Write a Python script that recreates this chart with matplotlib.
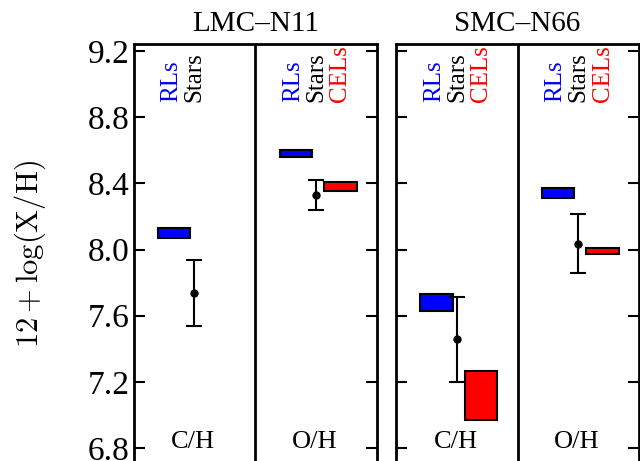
import numpy as np
import matplotlib
matplotlib.use("Agg")
import matplotlib.pyplot as plt

plt.rcParams['font.family'] = ['Liberation Serif', 'DejaVu Serif']
plt.rcParams['mathtext.fontset'] = 'cm'

regions = ["LMC\u2013N11", "SMC\u2013N66"]
elements = ["C/H", "O/H"]

# RLs boxes (low, high) for C/H and O/H
lmc_rl_lo = [8.07, 8.56]
lmc_rl_hi = [8.13, 8.60]
smc_rl_lo = [7.63, 8.31]
smc_rl_hi = [7.73, 8.37]

# stellar values with error range
lmc_star = [7.735, 8.33]
lmc_star_lo = [7.535, 8.24]
lmc_star_hi = [7.935, 8.42]
smc_star = [7.457, 8.036]
smc_star_lo = [7.198, 7.861]
smc_star_hi = [7.716, 8.217]

# CELs boxes (None = no value)
lmc_cel_lo = [None, 8.355]
lmc_cel_hi = [None, 8.41]
smc_cel_lo = [6.97, 7.975]
smc_cel_hi = [7.265, 8.012]

panels = [
    (lmc_rl_lo, lmc_rl_hi, lmc_star, lmc_star_lo, lmc_star_hi, lmc_cel_lo, lmc_cel_hi),
    (smc_rl_lo, smc_rl_hi, smc_star, smc_star_lo, smc_star_hi, smc_cel_lo, smc_cel_hi),
]

fig = plt.figure(figsize=(6.4, 4.61), dpi=100)
ax1 = fig.add_axes([0.2086, -0.0078, 0.3805, 0.9113])
ax2 = fig.add_axes([0.619, -0.0078, 0.3795, 0.9113])

for ax, title, data in zip([ax1, ax2], regions, panels):
    rl_lo, rl_hi, st, st_lo, st_hi, cel_lo, cel_hi = data
    for i, el in enumerate(elements):
        ax.bar(i + 0.333, rl_hi[i] - rl_lo[i], bottom=rl_lo[i], width=0.267,
               color='#0000ff', edgecolor='k', linewidth=1.5)
        ax.errorbar(i + 0.5, st[i], yerr=[[st[i] - st_lo[i]], [st_hi[i] - st[i]]],
                    fmt='o', color='k', ms=5, capsize=6, elinewidth=1.5,
                    capthick=1.5)
        has_cel = cel_lo[i] is not None
        if has_cel:
            ax.bar(i + 0.7, cel_hi[i] - cel_lo[i], bottom=cel_lo[i], width=0.267,
                   color='#ff0000', edgecolor='k', linewidth=1.5)
        ax.text(i + 0.31, 8.89, "RLs", color='#0000ff', rotation=90,
                ha='center', va='bottom', fontsize=18)
        ax.text(i + 0.5, 8.89, "Stars", color='k', rotation=90,
                ha='center', va='bottom', fontsize=18)
        if has_cel:
            ax.text(i + 0.7, 8.89, "CELs", color='#ff0000', rotation=90,
                    ha='center', va='bottom', fontsize=18)
        ax.text(i + 0.49, 6.80, el, ha='center', va='baseline', fontsize=19)
    ax.axvline(1, color='k', lw=2)
    ax.set_xlim(0, 2)
    ax.set_ylim(6.7, 9.24)
    ax.set_xticks([])
    ax.set_yticks([6.8, 7.2, 7.6, 8.0, 8.4, 8.8, 9.2])
    ax.tick_params(axis='y', direction='in', length=8, width=1.5,
                   left=True, right=True, labelsize=24, pad=3)
    for s in ax.spines.values():
        s.set_linewidth(2)
    ax.set_title(title, fontsize=21, pad=10)

ax1.set_yticklabels(["6.8", "7.2", "7.6", "8.0", "8.4", "8.8", "9.2"])
ax2.tick_params(axis='y', labelleft=False)
ax1.set_ylabel(r"$12+\log(\mathrm{X/H})$", fontsize=22, labelpad=28)

fig.savefig("out.png", dpi=100)
